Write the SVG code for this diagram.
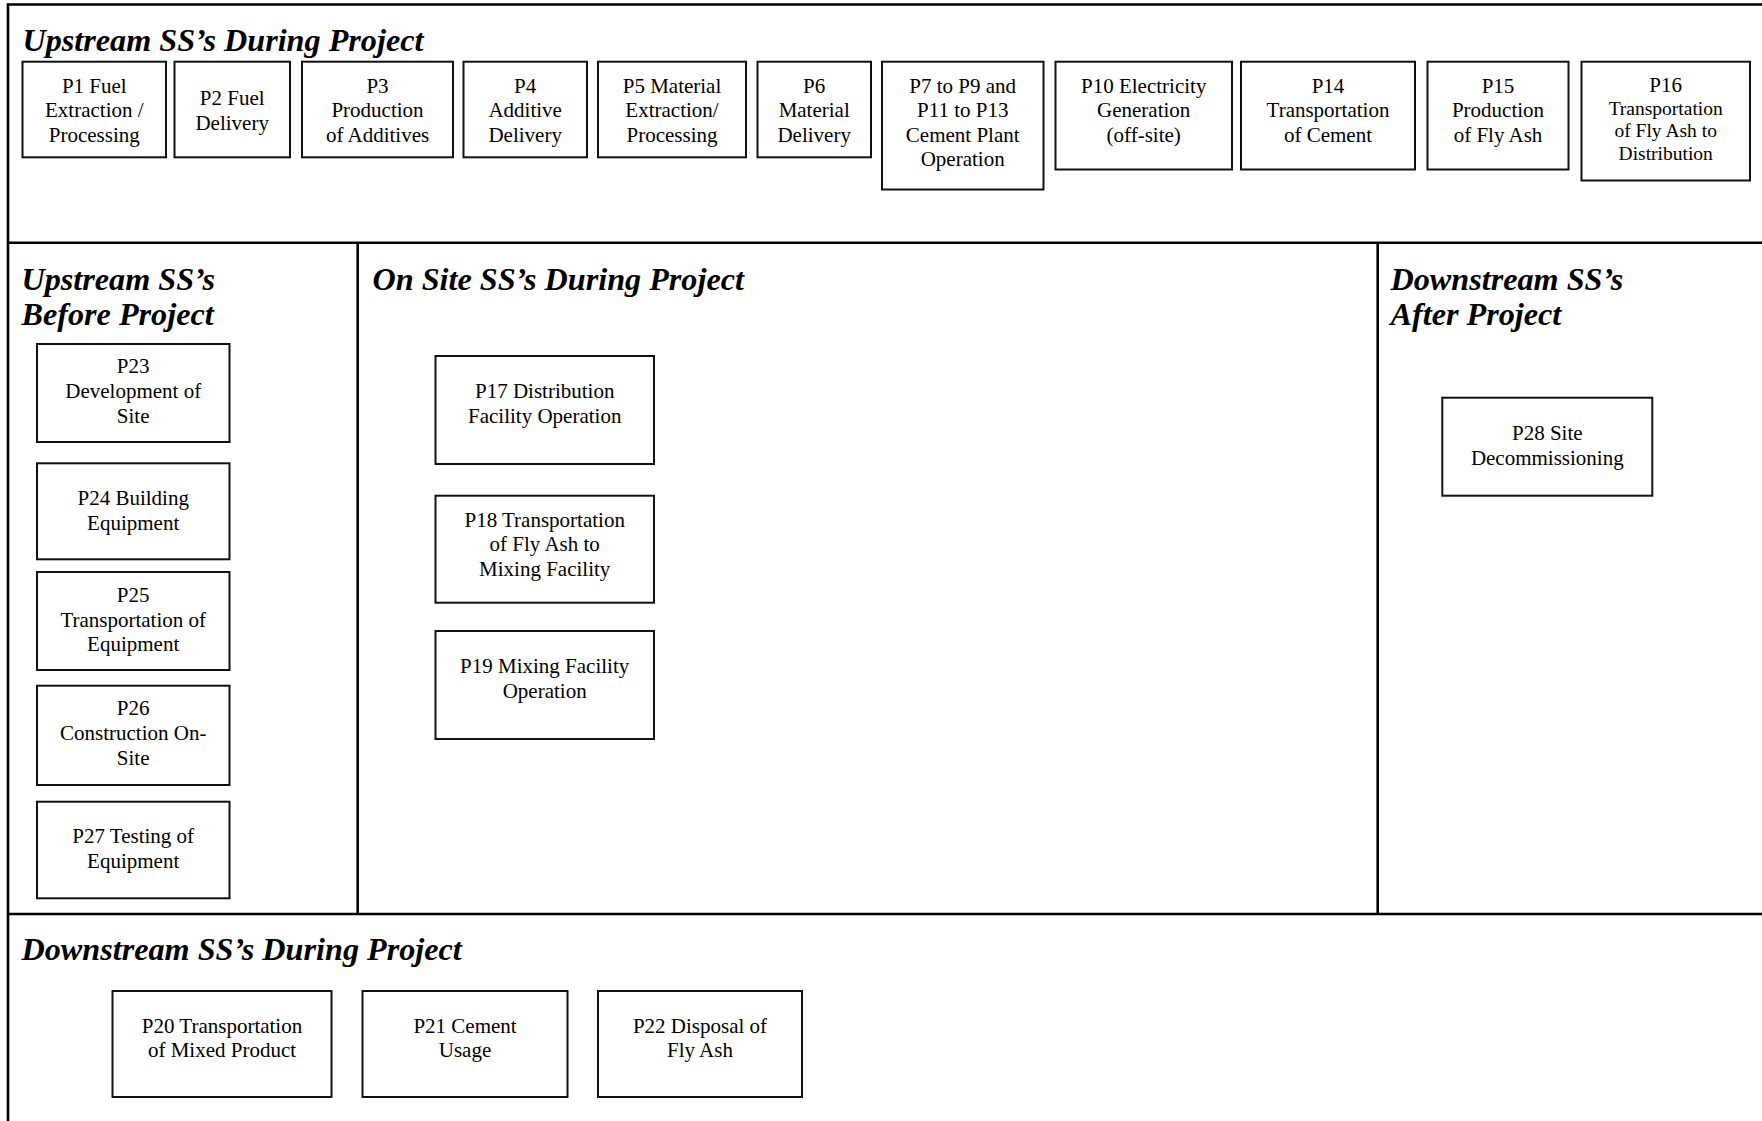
<svg xmlns="http://www.w3.org/2000/svg" width="1762" height="1121" viewBox="0 0 1762 1121">
<style>
.frame{fill:none;stroke:#000;stroke-width:2.6}
.box{fill:#fff;stroke:#111;stroke-width:2}
.t{font-family:"Liberation Serif","Times New Roman",serif;font-size:21px;fill:#000;text-anchor:middle}
.s{font-size:19.5px}
.h{font-family:"Liberation Serif","Times New Roman",serif;font-size:32.2px;font-weight:bold;font-style:italic;fill:#000}
</style>
<rect width="1762" height="1121" fill="#fff"/>
<g id="frame">
<path class="frame" d="M8,1125 V4.5 H1770 M8,242.7 H1770 M8,914 H1770 M357.7,242.7 V914 M1377.7,242.7 V914"/>
</g>
<g id="headings">
<text class="h" x="22.5" y="50.5">Upstream SS’s During Project</text>
<text class="h" x="21.5" y="290">Upstream SS’s</text>
<text class="h" x="21.5" y="325">Before Project</text>
<text class="h" x="372.5" y="290">On Site SS’s During Project</text>
<text class="h" x="1390.5" y="290">Downstream SS’s</text>
<text class="h" x="1390.5" y="325">After Project</text>
<text class="h" x="21.5" y="960">Downstream SS’s During Project</text>
</g>
<g id="connectors"></g>
<g id="P1"><rect class="box" x="22.5" y="61.7" width="143.5" height="95.6"/><text class="t" x="94.3" y="92.5">P1 Fuel</text><text class="t" x="94.3" y="117">Extraction /</text><text class="t" x="94.3" y="141.5">Processing</text></g>
<g id="P2"><rect class="box" x="174.5" y="61.7" width="115.5" height="95.6"/><text class="t" x="232.2" y="105">P2 Fuel</text><text class="t" x="232.2" y="129.5">Delivery</text></g>
<g id="P3"><rect class="box" x="302" y="61.7" width="151" height="95.6"/><text class="t" x="377.5" y="92.5">P3</text><text class="t" x="377.5" y="117">Production</text><text class="t" x="377.5" y="141.5">of Additives</text></g>
<g id="P4"><rect class="box" x="463.5" y="61.7" width="123.5" height="95.6"/><text class="t" x="525.2" y="92.5">P4</text><text class="t" x="525.2" y="117">Additive</text><text class="t" x="525.2" y="141.5">Delivery</text></g>
<g id="P5"><rect class="box" x="598" y="61.7" width="148" height="95.6"/><text class="t" x="672" y="92.5">P5 Material</text><text class="t" x="672" y="117">Extraction/</text><text class="t" x="672" y="141.5">Processing</text></g>
<g id="P6"><rect class="box" x="757.5" y="61.7" width="113.5" height="95.6"/><text class="t" x="814.2" y="92.5">P6</text><text class="t" x="814.2" y="117">Material</text><text class="t" x="814.2" y="141.5">Delivery</text></g>
<g id="P7-P13"><rect class="box" x="882" y="61.7" width="161.5" height="127.8"/><text class="t" x="962.7" y="92.5">P7 to P9 and</text><text class="t" x="962.7" y="117">P11 to P13</text><text class="t" x="962.7" y="141.5">Cement Plant</text><text class="t" x="962.7" y="166">Operation</text></g>
<g id="P10"><rect class="box" x="1055.5" y="61.7" width="176.5" height="107.8"/><text class="t" x="1143.7" y="92.5">P10 Electricity</text><text class="t" x="1143.7" y="117">Generation</text><text class="t" x="1143.7" y="141.5">(off-site)</text></g>
<g id="P14"><rect class="box" x="1241" y="61.7" width="174" height="107.8"/><text class="t" x="1328" y="92.5">P14</text><text class="t" x="1328" y="117">Transportation</text><text class="t" x="1328" y="141.5">of Cement</text></g>
<g id="P15"><rect class="box" x="1427.5" y="61.7" width="141" height="107.8"/><text class="t" x="1498" y="92.5">P15</text><text class="t" x="1498" y="117">Production</text><text class="t" x="1498" y="141.5">of Fly Ash</text></g>
<g id="P16"><rect class="box" x="1581.5" y="61.7" width="168.5" height="118.8"/><text class="t" x="1665.7" y="91.7">P16</text><text class="t s" x="1665.7" y="114.5">Transportation</text><text class="t s" x="1665.7" y="137.2">of Fly Ash to</text><text class="t s" x="1665.7" y="160">Distribution</text></g>
<g id="P23"><rect class="box" x="37" y="344" width="192.5" height="98"/><text class="t" x="133.2" y="373.3">P23</text><text class="t" x="133.2" y="398">Development of</text><text class="t" x="133.2" y="422.7">Site</text></g>
<g id="P24"><rect class="box" x="37" y="463.3" width="192.5" height="96"/><text class="t" x="133.2" y="505">P24 Building</text><text class="t" x="133.2" y="530">Equipment</text></g>
<g id="P25"><rect class="box" x="37" y="572" width="192.5" height="98"/><text class="t" x="133.2" y="601.7">P25</text><text class="t" x="133.2" y="626.5">Transportation of</text><text class="t" x="133.2" y="651.2">Equipment</text></g>
<g id="P26"><rect class="box" x="37" y="685.7" width="192.5" height="99.3"/><text class="t" x="133.2" y="715">P26</text><text class="t" x="133.2" y="740">Construction On-</text><text class="t" x="133.2" y="764.5">Site</text></g>
<g id="P27"><rect class="box" x="37" y="801.7" width="192.5" height="96.6"/><text class="t" x="133.2" y="843.3">P27 Testing of</text><text class="t" x="133.2" y="868">Equipment</text></g>
<g id="P17"><rect class="box" x="435.5" y="356" width="218.5" height="108"/><text class="t" x="544.7" y="398.3">P17 Distribution</text><text class="t" x="544.7" y="422.7">Facility Operation</text></g>
<g id="P18"><rect class="box" x="435.5" y="495.7" width="218.5" height="107"/><text class="t" x="544.7" y="526.7">P18 Transportation</text><text class="t" x="544.7" y="551">of Fly Ash to</text><text class="t" x="544.7" y="575.5">Mixing Facility</text></g>
<g id="P19"><rect class="box" x="435.5" y="631" width="218.5" height="108"/><text class="t" x="544.7" y="673.3">P19 Mixing Facility</text><text class="t" x="544.7" y="697.7">Operation</text></g>
<g id="P28"><rect class="box" x="1442.3" y="397.7" width="210" height="98"/><text class="t" x="1547.3" y="440">P28 Site</text><text class="t" x="1547.3" y="464.5">Decommissioning</text></g>
<g id="P20"><rect class="box" x="112.5" y="991" width="219" height="106"/><text class="t" x="222" y="1032.7">P20 Transportation</text><text class="t" x="222" y="1057.3">of Mixed Product</text></g>
<g id="P21"><rect class="box" x="362.5" y="991" width="205" height="106"/><text class="t" x="465" y="1032.7">P21 Cement</text><text class="t" x="465" y="1057.3">Usage</text></g>
<g id="P22"><rect class="box" x="598" y="991" width="204" height="106"/><text class="t" x="700" y="1032.7">P22 Disposal of</text><text class="t" x="700" y="1057.3">Fly Ash</text></g>
</svg>
